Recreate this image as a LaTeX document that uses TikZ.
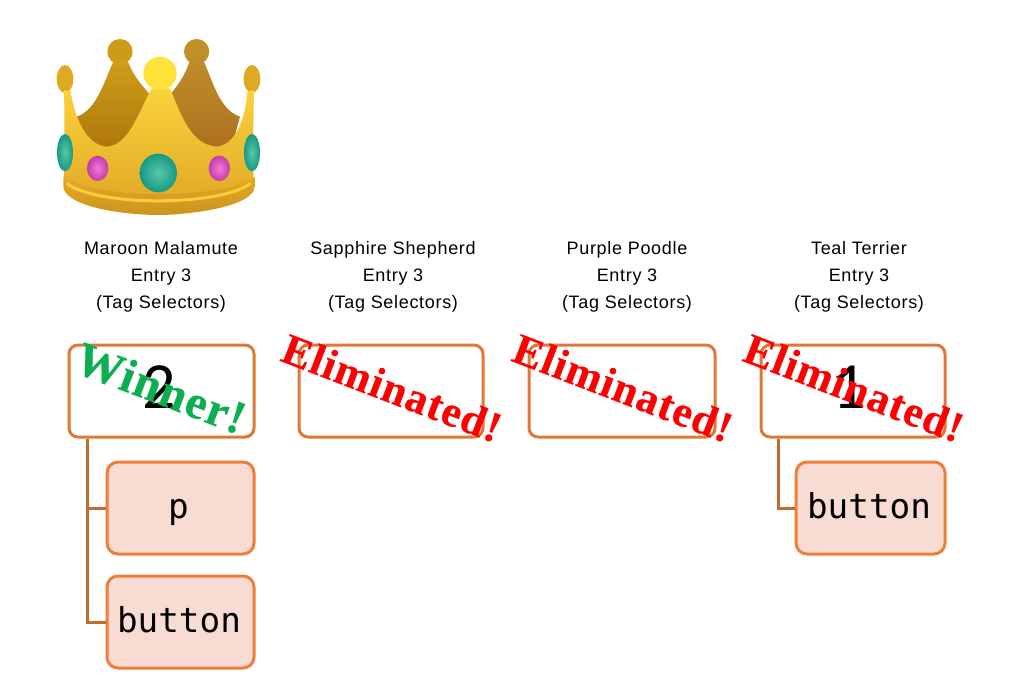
\documentclass[tikz,border=0pt]{standalone}
\usepackage{fontspec}
\setmainfont{Liberation Sans}[LetterSpace=3.8]
\newfontfamily\monof{DejaVu Sans Mono}
\newfontfamily\numf{Carlito}
\newfontfamily\stampf{Liberation Serif Bold}[FakeBold=0.35,LetterSpace=2.5]
\definecolor{parentline}{HTML}{DF7736}
\definecolor{childline}{HTML}{EE7F38}
\definecolor{childfill}{HTML}{F8DCD3}
\definecolor{wire}{HTML}{C66B30}
\definecolor{winnergreen}{HTML}{0BAF50}
\definecolor{gemteal}{HTML}{169A84}
\definecolor{gemtealin}{HTML}{58C8A8}
\definecolor{gempink}{HTML}{C53BA8}
\definecolor{gempinkin}{HTML}{F27AD8}
\tikzset{
  parentbox/.style={draw=parentline,line width=3pt,rounded corners=9pt,fill=white,inner sep=0pt,minimum height=92pt},
  numlabel/.style={inner sep=0pt,font=\numf\fontsize{66}{66}\selectfont},
  childbox/.style={draw=childline,line width=3pt,rounded corners=11pt,fill=childfill,inner sep=0pt,
    minimum height=92pt,text height=24pt,text depth=4pt,font=\monof\fontsize{34.3}{34}\selectfont},
  wirepath/.style={draw=wire,line width=3pt},
  caption/.style={align=center,inner sep=0pt,font=\fontsize{18}{27}\selectfont},
  stamp/.style={rotate=-21,inner sep=0pt,font=\stampf\fontsize{43.5}{47}\selectfont},
  winstamp/.style={rotate=-21,inner sep=0pt,font=\stampf\fontsize{47.5}{47}\selectfont},
}
\begin{document}
\begin{tikzpicture}[x=1pt,y=-1pt]
\useasboundingbox (0,0) rectangle (1011,675);
% crown
\begin{scope}[shift={(40,20)},x=0.3333pt,y=-0.3333pt]
  \fill[color={rgb,255:red,205;green,155;blue,24}] (240,95) circle[radius=38];
  \fill[color={rgb,255:red,190;green,145;blue,40}] (470,95) circle[radius=38];
  \shade[top color={rgb,255:red,208;green,158;blue,25},bottom color={rgb,255:red,172;green,116;blue,12}]
     (110,290) .. controls (170,270) and (190,190) .. (222,120) -- (262,120)
     .. controls (280,170) and (310,200) .. (335,230) -- (300,400) -- (140,400) -- cycle;
  \shade[top color={rgb,255:red,190;green,142;blue,42},bottom color={rgb,255:red,172;green,110;blue,30}]
     (600,290) .. controls (540,270) and (520,190) .. (490,120) -- (450,120)
     .. controls (435,170) and (410,200) .. (385,230) -- (420,400) -- (570,400) -- cycle;
  \fill[color={rgb,255:red,222;green,170;blue,35}] (75,177) ellipse[x radius=25,y radius=42];
  \fill[color={rgb,255:red,222;green,170;blue,35}] (636,177) ellipse[x radius=25,y radius=42];
  \shade[top color={rgb,255:red,250;green,210;blue,60},bottom color={rgb,255:red,224;green,168;blue,36}]
     (72,210) -- (92,215)
     .. controls (100,270) and (130,375) .. (200,380)
     .. controls (265,375) and (290,290) .. (335,205) -- (390,205)
     .. controls (425,290) and (455,375) .. (530,380)
     .. controls (595,375) and (620,270) .. (622,215) -- (642,210)
     .. controls (640,300) and (640,400) .. (640,490)
     .. controls (550,560) and (170,560) .. (72,490) .. controls (74,400) and (74,300) .. (72,210) -- cycle;
  \fill[color={rgb,255:red,255;green,225;blue,60}] (360,160) circle[radius=50];
  \shade[top color={rgb,255:red,226;green,170;blue,36},bottom color={rgb,255:red,205;green,148;blue,30}]
     (70,470) .. controls (170,540) and (550,540) .. (645,470)
     -- (645,500) .. controls (640,560) and (450,585) .. (355,585)
     .. controls (250,585) and (75,560) .. (70,500) -- cycle;
  \draw[color={rgb,255:red,250;green,205;blue,60},line width=3pt]
     (80,490) .. controls (170,560) and (540,560) .. (632,490);
  \shade[outer color=gemteal,inner color=gemtealin] (75,398) ellipse[x radius=24,y radius=56];
  \shade[outer color=gemteal,inner color=gemtealin] (636,398) ellipse[x radius=24,y radius=56];
  \shade[outer color=gempink,inner color=gempinkin] (173,445) ellipse[x radius=32,y radius=38];
  \shade[outer color=gempink,inner color=gempinkin] (538,445) ellipse[x radius=32,y radius=38];
  \shade[outer color=gemteal,inner color=gemtealin] (355,459) ellipse[x radius=56,y radius=58];
\end{scope}
% captions
\node[caption] (cap1) at (161,277) {Maroon Malamute\\Entry 3\\(Tag Selectors)};
\node[caption] (cap2) at (393,277) {Sapphire Shepherd\\Entry 3\\(Tag Selectors)};
\node[caption] (cap3) at (627,277) {Purple Poodle\\Entry 3\\(Tag Selectors)};
\node[caption] (cap4) at (859,277) {Teal Terrier\\Entry 3\\(Tag Selectors)};
% parents
\node[parentbox,minimum width=185pt] (p1) at (161.5,391) {};
\node[parentbox,minimum width=184pt] (p2) at (391,391) {};
\node[parentbox,minimum width=186pt] (p3) at (622,391) {};
\node[parentbox,minimum width=184pt] (p4) at (853,391) {};
\node[numlabel] (n1) at (159,387) {2};
\node[numlabel] (n4) at (849,387) {1};
% children
\node[childbox,minimum width=147pt] (c1) at (180.5,508) {\kern-4pt p};
\node[childbox,minimum width=147pt] (c2) at (180.5,622) {\kern-3pt button};
\node[childbox,minimum width=149pt] (c3) at (870.5,508) {\kern-3pt button};
% connectors
\coordinate (t1) at ([xshift=20pt]p1.south west);
\coordinate (t4) at ([xshift=19pt]p4.south west);
\draw[wirepath] (t1) |- (c1.west);
\draw[wirepath] (t1) |- (c2.west);
\draw[wirepath] (t4) |- (c3.west);
% stamps
\node[winstamp,text=winnergreen] (s1) at (161,388) {Winner!};
\node[stamp,text=red] (s2) at (392,388) {Eliminated!};
\node[stamp,text=red] (s3) at (623,388) {Eliminated!};
\node[stamp,text=red] (s4) at (854,388) {Eliminated!};
\end{tikzpicture}
\end{document}
